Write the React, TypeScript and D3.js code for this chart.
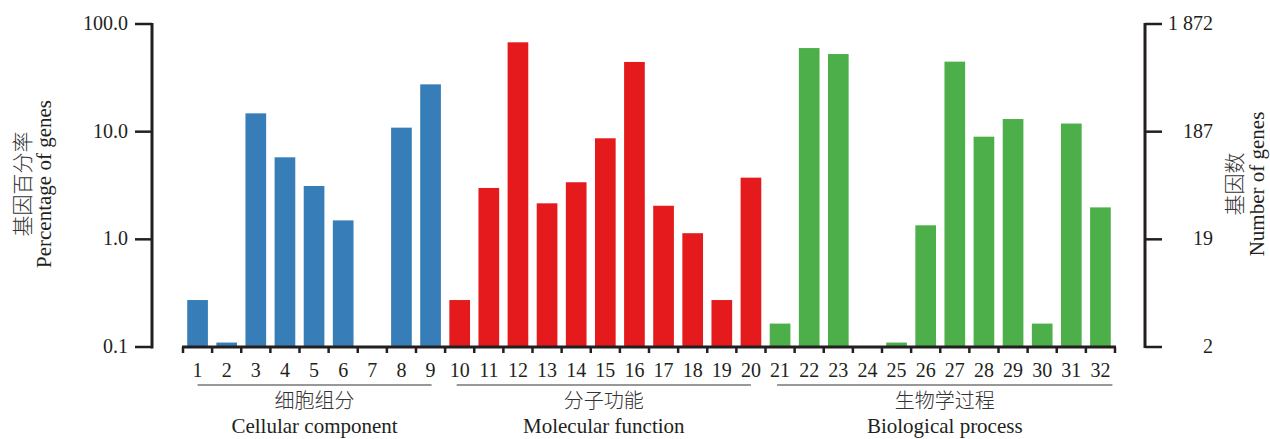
import React from "react";
import * as d3 from "d3";

const categories = ["1","2","3","4","5","6","7","8","9","10","11","12","13","14","15","16","17","18","19","20","21","22","23","24","25","26","27","28","29","30","31","32"];
const percentages = [0.273, 0.11, 14.8, 5.78, 3.13, 1.5, 0, 10.9, 27.5, 0.273, 3.0, 67.6, 2.16, 3.39, 8.68, 44.4, 2.05, 1.14, 0.273, 3.74, 0.165, 59.8, 52.6, 0, 0.11, 1.35, 44.7, 8.98, 13.1, 0.165, 11.9, 1.98];
const groupNames = ["Cellular component", "Molecular function", "Biological process"];
const groupNamesZh = ["细胞组分", "分子功能", "生物学过程"];
const groupStart = [1, 10, 21];
const groupEnd = [9, 20, 32];
const groupColors = ["#377eb8", "#e41a1c", "#4daf4a"];
const leftTicks = [0.1, 1, 10, 100];
const leftTickLabels = ["0.1", "1.0", "10.0", "100.0"];
const rightTicks = [1.872, 18.72, 187.2, 1872];
const rightTickLabels = ["2", "19", "187", "1 872"];

const W = 1270, H = 439;
const top = 24, bottom = 347;
const xLeft = 183, xRight = 1115;
const leftAxisX = 152, rightAxisX = 1145;
const FONT = "'Liberation Serif', 'Times New Roman', serif";
const CJK = "'Noto Sans CJK SC', sans-serif";
const INK = "#231f20";
const TITLE_INK = "#333";

export default function App() {
  const x = d3.scaleBand<string>().domain(categories).range([xLeft, xRight]).paddingInner(0.29).paddingOuter(0.145);
  const step = (xRight - xLeft) / categories.length;
  const y = d3.scaleLog().domain([0.1, 100]).range([bottom, top]);
  const yR = d3.scaleLog().domain([1.872, 1872]).range([bottom, top]);
  const groupOf = (i: number) => (i + 1 <= groupEnd[0] ? 0 : i + 1 <= groupEnd[1] ? 1 : 2);
  const center = (i: number) => (x(categories[i]) as number) + x.bandwidth() / 2;
  const lineStart = [center(groupStart[0] - 1), center(groupStart[1] - 1) - 3, center(groupStart[2] - 1) - 3];
  const lineEnd = [center(groupEnd[0] - 1) + 1, center(groupEnd[1] - 1), center(groupEnd[2] - 1) + 12];

  return (
    <div style={{ position: "absolute", left: 0, top: 0 }}>
      <svg width={W} height={H} style={{ display: "block", background: "#fff" }} fontFamily={FONT}>
        {percentages.map((v, i) =>
          v > 0.1 ? (
            <rect key={i} x={x(categories[i])} y={y(v)} width={x.bandwidth()} height={bottom - y(v)} fill={groupColors[groupOf(i)]} />
          ) : null
        )}
        {/* left axis */}
        <line x1={leftAxisX} x2={leftAxisX} y1={top - 1} y2={bottom + 1.5} stroke={INK} strokeWidth={3} />
        {leftTicks.map((t, i) => (
          <g key={i}>
            <line x1={135} x2={leftAxisX} y1={y(t)} y2={y(t)} stroke={INK} strokeWidth={2.5} />
            <text x={128} y={y(t) + 6} textAnchor="end" fontSize={20} fill={INK}>{leftTickLabels[i]}</text>
          </g>
        ))}
        {/* right axis */}
        <line x1={rightAxisX} x2={rightAxisX} y1={top - 1} y2={bottom + 1} stroke={INK} strokeWidth={3} />
        {rightTicks.map((t, i) => (
          <g key={i}>
            <line x1={rightAxisX} x2={1162} y1={yR(t)} y2={yR(t)} stroke={INK} strokeWidth={2.5} />
            <text x={1213} y={yR(t) + 6} textAnchor="end" fontSize={20} fill={INK}>{rightTickLabels[i]}</text>
          </g>
        ))}
        {/* x axis */}
        <line x1={xLeft - 1} x2={xRight + 1} y1={bottom} y2={bottom} stroke={INK} strokeWidth={3} />
        {d3.range(categories.length + 1).map((k) => (
          <line key={k} x1={xLeft + k * step} x2={xLeft + k * step} y1={bottom} y2={bottom + 6} stroke={INK} strokeWidth={2.5} />
        ))}
        {categories.map((c, i) => (
          <text key={c} x={center(i)} y={377} textAnchor="middle" fontSize={20} fill={INK}>{c}</text>
        ))}
        {groupNames.map((g, k) => (
          <g key={g}>
            <line x1={lineStart[k]} x2={lineEnd[k]} y1={385} y2={385} stroke="#333" strokeWidth={1.2} />
            <text x={(lineStart[k] + lineEnd[k]) / 2} y={408} textAnchor="middle" fontSize={20} fontWeight={300} fontFamily={CJK} fill={TITLE_INK}>{groupNamesZh[k]}</text>
            <text x={(lineStart[k] + lineEnd[k]) / 2} y={433} textAnchor="middle" fontSize={21} fill={INK}>{g}</text>
          </g>
        ))}
        {/* axis titles */}
        <text transform="translate(30,184) rotate(-90)" textAnchor="middle" fontSize={21} fontWeight={300} fontFamily={CJK} fill={TITLE_INK}>基因百分率</text>
        <text transform="translate(51,184) rotate(-90)" textAnchor="middle" fontSize={21} fill={INK}>Percentage of genes</text>
        <text transform="translate(1242,184) rotate(-90)" textAnchor="middle" fontSize={21} fontWeight={300} fontFamily={CJK} fill={TITLE_INK}>基因数</text>
        <text transform="translate(1264,184) rotate(-90)" textAnchor="middle" fontSize={21} fill={INK}>Number of genes</text>
      </svg>
    </div>
  );
}
